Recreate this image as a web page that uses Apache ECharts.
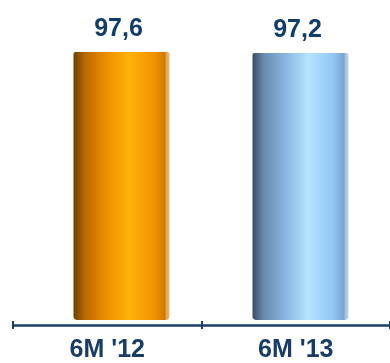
<!DOCTYPE html>
<html><head><meta charset="utf-8">
<script src="https://cdn.jsdelivr.net/npm/echarts@6/dist/echarts.min.js"></script>
<style>html,body{margin:0;padding:0;background:#fff}#c{width:390px;height:363px}</style>
</head><body><div id="c"></div>
<script>
var categories = ["6M '12", "6M '13"];
var values = [97.6, 97.2];
var valueLabels = ["97,6", "97,2"];

var orange = {type:'linear',x:0,y:0,x2:1,y2:0,colorStops:[
  {offset:0,color:'#6e4000'},{offset:0.12,color:'#b86a00'},{offset:0.35,color:'#f09000'},
  {offset:0.58,color:'#ffb20a'},{offset:0.85,color:'#f09200'},{offset:0.95,color:'#d07a00'},{offset:0.97,color:'#e0a860'},{offset:1,color:'#e8b878'}]};
var blue = {type:'linear',x:0,y:0,x2:1,y2:0,colorStops:[
  {offset:0,color:'#3a4c66'},{offset:0.12,color:'#6a8cb0'},{offset:0.35,color:'#8ab6e0'},
  {offset:0.58,color:'#b4e4ff'},{offset:0.85,color:'#90c4f4'},{offset:0.95,color:'#7aa4d0'},{offset:0.97,color:'#a8c4e0'},{offset:1,color:'#c0d4e8'}]};
var colors = [orange, blue];

var chart = echarts.init(document.getElementById('c'));
chart.setOption({
  animation:false,
  grid:[
    {left:13, width:382, top:45.4, bottom:34, containLabel:false},
    {left:32, width:360, top:45.4, bottom:43, containLabel:false}
  ],
  xAxis:[
    {type:'category', gridIndex:0, data:categories,
     axisLine:{show:true, lineStyle:{color:'#1d3f6e', width:2.5}},
     axisTick:{show:true, length:4, lineStyle:{color:'#1d3f6e', width:2}},
     axisLabel:{color:'#183c68', fontSize:25, fontWeight:'bold', fontFamily:'Liberation Sans, Arial, sans-serif', margin:13}},
    {type:'category', gridIndex:1, data:categories, show:false},
    {type:'category', gridIndex:0, data:categories, position:'bottom',
     axisLine:{show:false}, axisLabel:{show:false},
     axisTick:{show:true, inside:true, length:4, lineStyle:{color:'#1d3f6e', width:2}}}
  ],
  yAxis:[
    {type:'value', gridIndex:0, min:0, max:100, show:false},
    {type:'value', gridIndex:1, min:0, max:100, show:false}
  ],
  series:[{
    type:'bar', xAxisIndex:1, yAxisIndex:1, barWidth:96,
    data: values.map(function(v,i){return {value:v, itemStyle:{color:colors[i], borderRadius:[2,2,4,4]}};}),
    label:{show:true, position:'top', distance:10, color:'#0f3d6e', fontSize:25, fontWeight:'bold',
      fontFamily:'Liberation Sans, Arial, sans-serif', offset:[-3,0],
      formatter:function(p){return valueLabels[p.dataIndex];}}
  }]
});
</script></body></html>
